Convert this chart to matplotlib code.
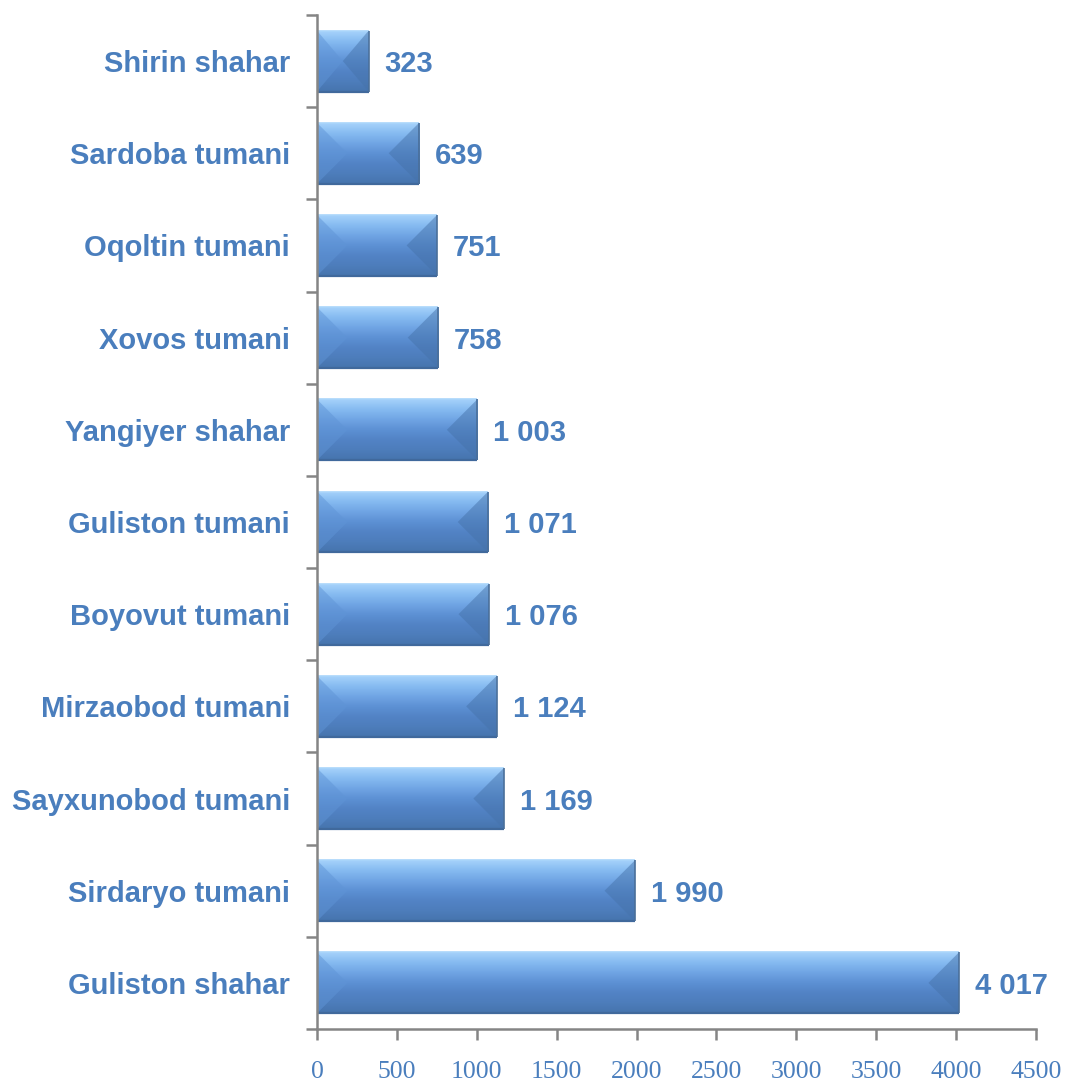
import numpy as np
import matplotlib
matplotlib.use("Agg")
import matplotlib.pyplot as plt
from matplotlib.colors import LinearSegmentedColormap
from matplotlib.patches import Rectangle, Polygon

# ==========================================
# Data
# ==========================================

districts = [
    "Guliston shahar", "Sirdaryo tumani", "Sayxunobod tumani",
    "Mirzaobod tumani", "Boyovut tumani", "Guliston tumani",
    "Yangiyer shahar", "Xovos tumani", "Oqoltin tumani",
    "Sardoba tumani", "Shirin shahar",
]
values = [4017, 1990, 1169, 1124, 1076, 1071, 1003, 758, 751, 639, 323]
x_ticks = [0, 500, 1000, 1500, 2000, 2500, 3000, 3500, 4000, 4500]

# ==========================================
# Style
# ==========================================

W, H = 1065, 1081
text_color = "#4a7ebd"
axis_color = "#858585"
bar_h = 0.66

grad = LinearSegmentedColormap.from_list(
    "bevel",
    ["#a6d2fb", "#86bbf1", "#70a5e4", "#5d91d4", "#5283c5", "#4d7dbb", "#4674ad"],
)

fig = plt.figure(figsize=(W / 100, H / 100), dpi=100)
ax = fig.add_axes([317 / W, 1 - 1029 / H, (1036 - 317) / W, (1029 - 15) / H])
ax.set_xlim(0, 4500)
ax.set_ylim(-0.5, len(districts) - 0.5)

# pixel -> data scales, for the bevel inset
px_x = 4500 / (1036 - 317)
px_y = len(districts) / (1029 - 15)
half_px = bar_h / 2 / px_y

ypos = np.arange(len(districts))
bars = ax.barh(ypos, values, height=bar_h, color="none", edgecolor="none")

gimg = np.linspace(0, 1, 256).reshape(-1, 1)

for y, v in zip(ypos, values):
    y0, y1 = y - bar_h / 2, y + bar_h / 2
    clip = Rectangle((0, y0), v, bar_h, transform=ax.transData)
    im = ax.imshow(gimg, cmap=grad, extent=(0, v, y0, y1), origin="upper",
                   aspect="auto", zorder=2)
    im.set_clip_path(clip)

    # bevel side faces
    d = min(half_px * px_x, v / 2)
    ax.add_patch(Polygon([(0, y0), (d, y), (0, y1)], closed=True,
                         facecolor="#5f94d6", edgecolor="none", alpha=0.5, zorder=3))
    ax.add_patch(Polygon([(v, y0), (v - d, y), (v, y1)], closed=True,
                         facecolor="#4673ab", edgecolor="none", alpha=0.5, zorder=3))

    # bevel edges
    ax.plot([0, v], [y1, y1], color="#aad5fb", lw=1.2, zorder=4, solid_capstyle="butt")
    ax.plot([0, v], [y0, y0], color="#40699c", lw=1.6, zorder=4, solid_capstyle="butt")
    ax.plot([v, v], [y0, y1], color="#4a6f9a", lw=1.2, zorder=4, solid_capstyle="butt")

    ax.text(v + 16 * px_x, y, f"{v:,}".replace(",", " "), ha="left",
            va="center_baseline", fontsize=21, fontweight="bold",
            family="Liberation Sans", color=text_color)

# ==========================================
# Axes
# ==========================================

for side in ["top", "right"]:
    ax.spines[side].set_visible(False)
for side in ["left", "bottom"]:
    ax.spines[side].set_color(axis_color)
    ax.spines[side].set_linewidth(1.8)
    ax.spines[side].set_zorder(5)

ax.set_yticks(np.arange(-0.5, len(districts), 1))
ax.set_yticklabels([])
ax.set_yticks(ypos, minor=True)
ax.set_yticklabels(districts, minor=True, fontsize=21, fontweight="bold",
                   family="Liberation Sans", color=text_color)
ax.tick_params(axis="y", which="major", length=8, width=1.8, color=axis_color,
               direction="out")
ax.tick_params(axis="y", which="minor", length=0, pad=19.5)

ax.set_xticks(x_ticks)
ax.set_xticklabels([str(t) for t in x_ticks], fontsize=18.5,
                   family="Liberation Serif", color=text_color)
ax.tick_params(axis="x", length=8, width=1.8, color=axis_color,
               direction="out", pad=15)

fig.savefig("out.png", dpi=100)
plt.close(fig)
